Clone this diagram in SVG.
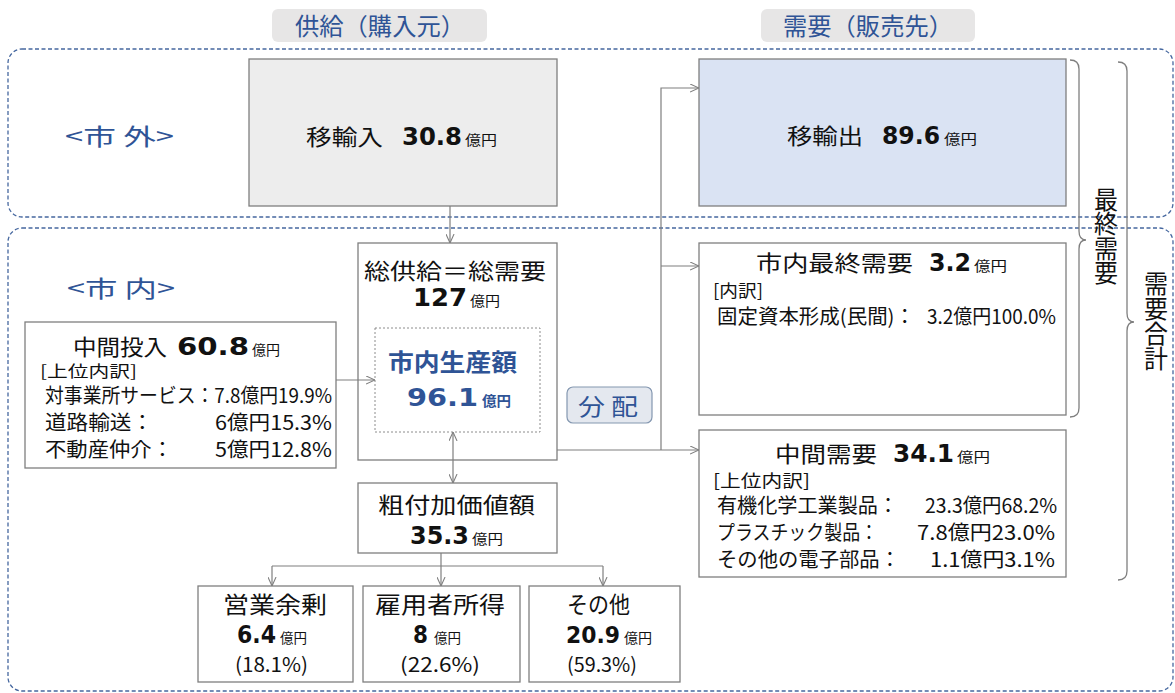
<svg xmlns="http://www.w3.org/2000/svg" width="1175" height="693" viewBox="0 0 1175 693">
<style>
text{font-family:"Noto Sans CJK JP","Noto Sans",sans-serif;fill:#111}
.num{font-family:"DejaVu Sans","Noto Sans CJK JP",sans-serif;font-weight:bold}
.b{font-weight:bold}
.u{font-size:14px}
.blue{fill:#2f5496}
.box{fill:#fff;stroke:#7f7f7f;stroke-width:1.3}
.conn{fill:none;stroke:#7f7f7f;stroke-width:1.2}
.region{fill:none;stroke:#45679f;stroke-width:1.3;stroke-dasharray:4 2.5}
.hdr{fill:#e7e6e6}
.brace{fill:none;stroke:#7f7f7f;stroke-width:1.3}
.vt{writing-mode:vertical-rl;font-size:24px}
</style>
<defs>
<marker id="ah" viewBox="0 0 10 10" refX="10" refY="5" markerWidth="9" markerHeight="9" markerUnits="userSpaceOnUse" orient="auto-start-reverse">
<path d="M0,0.5 L10,5 L0,9.5" fill="none" stroke="#7f7f7f" stroke-width="1.2"/>
</marker>
</defs>
<rect width="1175" height="693" fill="#fff"/>

<g id="regions">
<rect class="region" x="8" y="49" width="1165" height="168" rx="14"/>
<rect class="region" x="8" y="228" width="1165" height="463" rx="14"/>
<text class="blue" x="65" y="145" font-size="23" textLength="109" lengthAdjust="spacingAndGlyphs">&lt;市 外&gt;</text>
<text class="blue" x="67" y="297" font-size="23" textLength="108" lengthAdjust="spacingAndGlyphs">&lt;市 内&gt;</text>
</g>

<g id="header-supply">
<rect class="hdr" x="272" y="9" width="215" height="33" rx="6"/>
<text class="blue" x="380" y="35" font-size="24" text-anchor="middle" textLength="170" lengthAdjust="spacingAndGlyphs">供給（購入元）</text>
</g>
<g id="header-demand">
<rect class="hdr" x="761" y="9" width="214" height="33" rx="6"/>
<text class="blue" x="868" y="35" font-size="24" text-anchor="middle" textLength="170" lengthAdjust="spacingAndGlyphs">需要（販売先）</text>
</g>

<g id="imports">
<rect x="249" y="59" width="308" height="147" fill="#ededed" stroke="#7f7f7f" stroke-width="1.3"/>
<text x="306" y="145" font-size="22" textLength="77" lengthAdjust="spacingAndGlyphs">移輸入</text>
<text class="num" x="402" y="145" font-size="24" textLength="60" lengthAdjust="spacingAndGlyphs">30.8</text>
<text class="u" x="465" y="145" textLength="32" lengthAdjust="spacingAndGlyphs">億円</text>
</g>

<g id="exports">
<rect x="699" y="59" width="367" height="147" fill="#dae3f3" stroke="#7f7f7f" stroke-width="1.3"/>
<text x="787" y="144" font-size="22" textLength="76" lengthAdjust="spacingAndGlyphs">移輸出</text>
<text class="num" x="882" y="144" font-size="24" textLength="58" lengthAdjust="spacingAndGlyphs">89.6</text>
<text class="u" x="944" y="144" textLength="33" lengthAdjust="spacingAndGlyphs">億円</text>
</g>

<g id="total">
<rect class="box" x="358" y="243" width="199" height="217"/>
<text x="364" y="279" font-size="22" textLength="182" lengthAdjust="spacingAndGlyphs">総供給＝総需要</text>
<text class="num" x="413" y="306" font-size="25" textLength="54" lengthAdjust="spacingAndGlyphs">127</text>
<text class="u" x="470" y="306" textLength="30" lengthAdjust="spacingAndGlyphs">億円</text>
</g>

<g id="production">
<rect x="375" y="328" width="165" height="104" fill="none" stroke="#8c8c8c" stroke-width="1" stroke-dasharray="2 2"/>
<text class="blue b" x="388" y="371" font-size="24" textLength="129" lengthAdjust="spacingAndGlyphs">市内生産額</text>
<text class="num blue" x="407" y="406" font-size="25" textLength="71" lengthAdjust="spacingAndGlyphs">96.1</text>
<text class="u blue b" x="482" y="406" textLength="29" lengthAdjust="spacingAndGlyphs">億円</text>
</g>

<g id="intermediate-input">
<rect class="box" x="25" y="322" width="311" height="146"/>
<text x="73" y="355" font-size="22" textLength="94" lengthAdjust="spacingAndGlyphs">中間投入</text>
<text class="num" x="177" y="355" font-size="24" textLength="72" lengthAdjust="spacingAndGlyphs">60.8</text>
<text class="u" x="252" y="355" textLength="28" lengthAdjust="spacingAndGlyphs">億円</text>
<text x="40" y="377" font-size="16" textLength="97" lengthAdjust="spacingAndGlyphs">[上位内訳]</text>
<text x="45" y="403" font-size="20" textLength="287" lengthAdjust="spacingAndGlyphs">対事業所サービス：7.8億円19.9%</text>
<text x="45" y="430" font-size="20" textLength="108" lengthAdjust="spacingAndGlyphs">道路輸送：</text>
<text x="215" y="430" font-size="20" textLength="117" lengthAdjust="spacingAndGlyphs">6億円15.3%</text>
<text x="45" y="457" font-size="20" textLength="128" lengthAdjust="spacingAndGlyphs">不動産仲介：</text>
<text x="215" y="457" font-size="20" textLength="117" lengthAdjust="spacingAndGlyphs">5億円12.8%</text>
</g>

<g id="local-final-demand">
<rect class="box" x="699" y="243" width="367" height="172"/>
<text x="756" y="271" font-size="22" textLength="157" lengthAdjust="spacingAndGlyphs">市内最終需要</text>
<text class="num" x="929" y="271" font-size="24" textLength="42" lengthAdjust="spacingAndGlyphs">3.2</text>
<text class="u" x="974" y="271" textLength="33" lengthAdjust="spacingAndGlyphs">億円</text>
<text x="713" y="297" font-size="17" textLength="50" lengthAdjust="spacingAndGlyphs">[内訳]</text>
<text x="717" y="324" font-size="20" textLength="198" lengthAdjust="spacingAndGlyphs">固定資本形成(民間)：</text>
<text x="927" y="324" font-size="20" textLength="129" lengthAdjust="spacingAndGlyphs">3.2億円100.0%</text>
</g>

<g id="intermediate-demand">
<rect class="box" x="699" y="430" width="367" height="147"/>
<text x="775" y="462" font-size="22" textLength="102" lengthAdjust="spacingAndGlyphs">中間需要</text>
<text class="num" x="893" y="462" font-size="24" textLength="61" lengthAdjust="spacingAndGlyphs">34.1</text>
<text class="u" x="957" y="462" textLength="33" lengthAdjust="spacingAndGlyphs">億円</text>
<text x="713" y="487" font-size="17" textLength="97" lengthAdjust="spacingAndGlyphs">[上位内訳]</text>
<text x="717" y="513" font-size="20" textLength="181" lengthAdjust="spacingAndGlyphs">有機化学工業製品：</text>
<text x="925" y="513" font-size="20" textLength="132" lengthAdjust="spacingAndGlyphs">23.3億円68.2%</text>
<text x="717" y="540" font-size="20" textLength="161" lengthAdjust="spacingAndGlyphs">プラスチック製品：</text>
<text x="917" y="540" font-size="20" textLength="138" lengthAdjust="spacingAndGlyphs">7.8億円23.0%</text>
<text x="717" y="567" font-size="20" textLength="183" lengthAdjust="spacingAndGlyphs">その他の電子部品：</text>
<text x="930" y="567" font-size="20" textLength="125" lengthAdjust="spacingAndGlyphs">1.1億円3.1%</text>
</g>

<g id="distribution">
<rect x="567" y="387" width="85" height="36" rx="6" fill="#e4e8ef" stroke="#8497b0" stroke-width="1.2"/>
<text class="blue" x="578" y="415" font-size="23" textLength="60" lengthAdjust="spacingAndGlyphs">分 配</text>
</g>

<g id="value-added">
<rect class="box" x="358" y="483" width="199" height="70"/>
<text x="378" y="513" font-size="22" textLength="157" lengthAdjust="spacingAndGlyphs">粗付加価値額</text>
<text class="num" x="410" y="544" font-size="25" textLength="59" lengthAdjust="spacingAndGlyphs">35.3</text>
<text class="u" x="472" y="544" textLength="31" lengthAdjust="spacingAndGlyphs">億円</text>
</g>

<g id="operating-surplus">
<rect class="box" x="198" y="586" width="155" height="96"/>
<text x="223" y="613" font-size="23" textLength="104" lengthAdjust="spacingAndGlyphs">営業余剰</text>
<text class="num" x="237" y="643" font-size="25" textLength="39" lengthAdjust="spacingAndGlyphs">6.4</text>
<text class="u" x="280" y="643" textLength="27" lengthAdjust="spacingAndGlyphs">億円</text>
<text x="235" y="672" font-size="20" textLength="73" lengthAdjust="spacingAndGlyphs">(18.1%)</text>
</g>

<g id="compensation">
<rect class="box" x="363" y="586" width="157" height="96"/>
<text x="375" y="613" font-size="23" textLength="130" lengthAdjust="spacingAndGlyphs">雇用者所得</text>
<text class="num" x="413" y="643" font-size="25" textLength="15" lengthAdjust="spacingAndGlyphs">8</text>
<text class="u" x="434" y="643" textLength="27" lengthAdjust="spacingAndGlyphs">億円</text>
<text x="400" y="672" font-size="20" textLength="80" lengthAdjust="spacingAndGlyphs">(22.6%)</text>
</g>

<g id="others">
<rect class="box" x="529" y="586" width="151" height="96"/>
<text x="567" y="613" font-size="23" textLength="63" lengthAdjust="spacingAndGlyphs">その他</text>
<text class="num" x="566" y="643" font-size="23" textLength="54" lengthAdjust="spacingAndGlyphs">20.9</text>
<text class="u" x="624" y="643" textLength="28" lengthAdjust="spacingAndGlyphs">億円</text>
<text x="567" y="672" font-size="20" textLength="70" lengthAdjust="spacingAndGlyphs">(59.3%)</text>
</g>

<g id="final-demand-brace">
<path class="brace" d="M1070,60 Q1079,60 1079,69 V231 Q1079,240 1086,240 Q1079,240 1079,249 V408 Q1079,417 1070,417"/>
<text class="vt" x="1106" y="187" textLength="98" lengthAdjust="spacingAndGlyphs">最終需要</text>
</g>

<g id="total-demand-brace">
<path class="brace" d="M1118,62 Q1127,62 1127,71 V313 Q1127,322 1134,322 Q1127,322 1127,331 V571 Q1127,580 1118,580"/>
<text class="vt" x="1156" y="271" textLength="100" lengthAdjust="spacingAndGlyphs">需要合計</text>
</g>

<g id="connectors">
<path class="conn" d="M450,206 V243" marker-end="url(#ah)"/>
<path class="conn" d="M336,380 H375" marker-end="url(#ah)"/>
<path class="conn" d="M453,432 V483" marker-start="url(#ah)" marker-end="url(#ah)"/>
<path class="conn" d="M441,553 V566 M272,566 H603"/>
<path class="conn" d="M272,566 V586" marker-end="url(#ah)"/>
<path class="conn" d="M441,566 V586" marker-end="url(#ah)"/>
<path class="conn" d="M603,566 V586" marker-end="url(#ah)"/>
<path class="conn" d="M557,450 H699" marker-end="url(#ah)"/>
<path class="conn" d="M661,450 V88 H699" marker-end="url(#ah)"/>
<path class="conn" d="M661,266 H699" marker-end="url(#ah)"/>
</g>
</svg>
